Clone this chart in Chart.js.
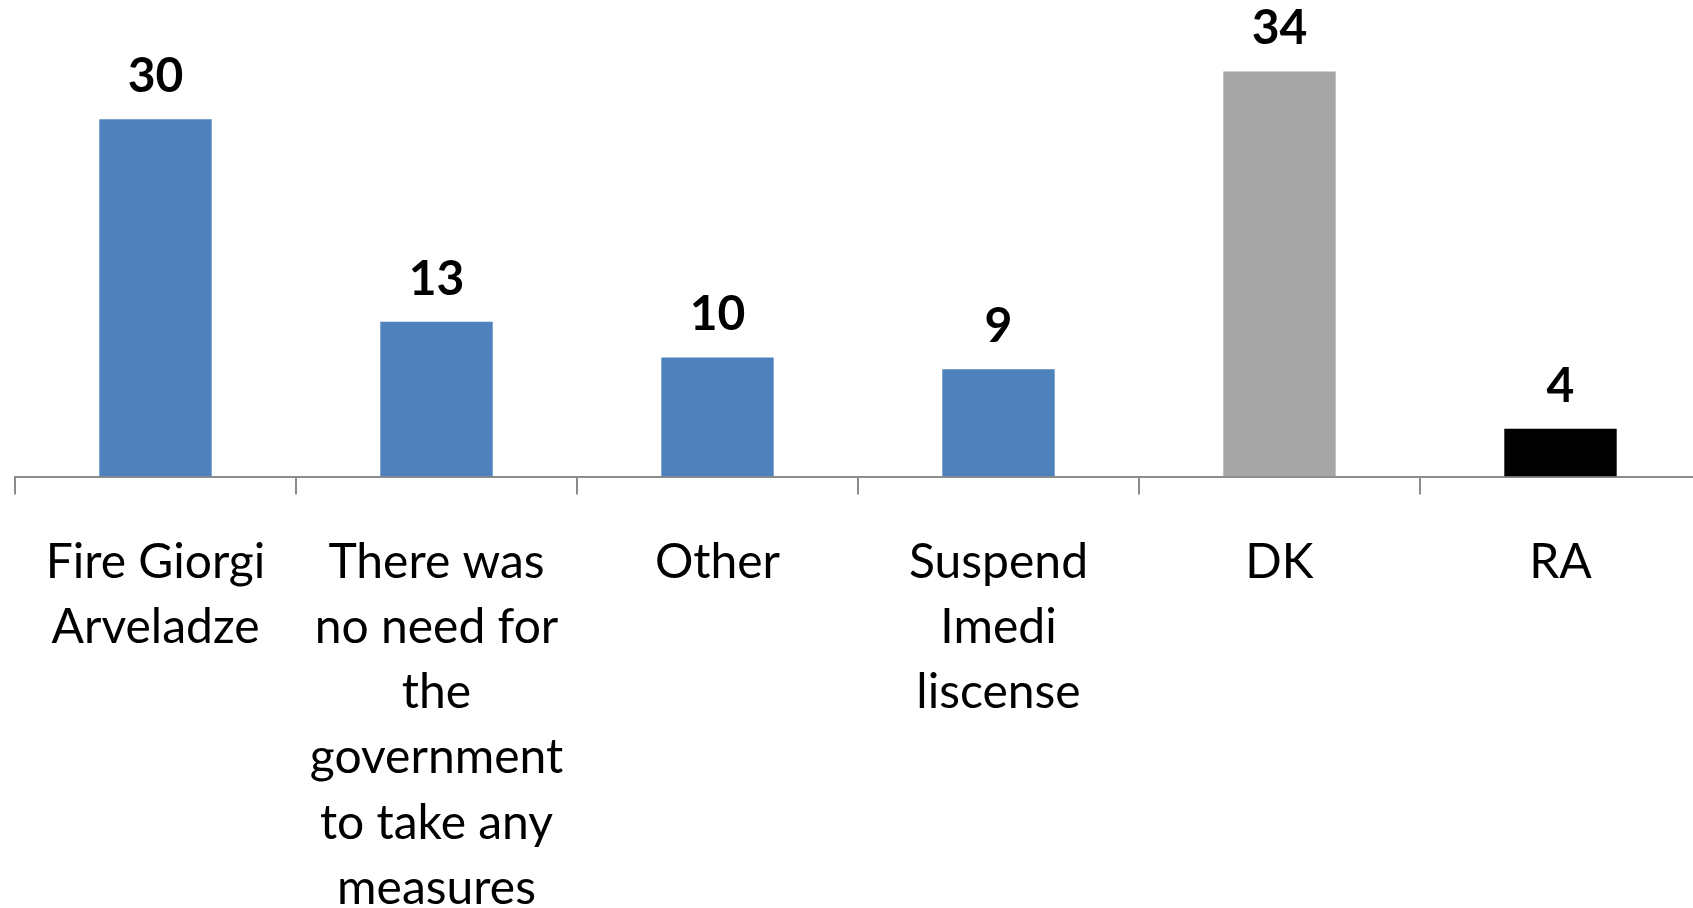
<!DOCTYPE html>
<html lang="en">
<head>
    <meta charset="UTF-8">
    <title>Measures</title>
    <script src="https://cdn.jsdelivr.net/npm/chart.js"></script>
    <style>
        body {
            margin: 0;
            padding: 0;
            background: #fff;
            overflow: hidden;
        }

        .frame {
            width: 1693px;
            height: 908px;
            overflow: hidden;
            position: relative;
        }

        .chart-wrapper {
            position: absolute;
            left: 0;
            top: 0;
            width: 1712px;
            height: 953px;
        }
    </style>
</head>

<body>
    <div class="frame">
        <div class="chart-wrapper">
            <canvas id="measuresChart"></canvas>
        </div>
    </div>

    <script>
        const categories = [
            ['Fire Giorgi', 'Arveladze'],
            ['There was', 'no need for', 'the', 'government', 'to take any', 'measures'],
            ['Other'],
            ['Suspend', 'Imedi', 'liscense'],
            ['DK'],
            ['RA']
        ];
        const values = [30, 13, 10, 9, 34, 4];
        const barColors = ['#4f81bd', '#4f81bd', '#4f81bd', '#4f81bd', '#a6a6a6', '#000000'];

        const axisGray = '#8c8c8c';
        const fontFamily = 'Lato, "Open Sans", sans-serif';

        // numbers above each bar
        const valueLabels = {
            id: 'valueLabels',
            afterDatasetsDraw(chart) {
                const ctx = chart.ctx;
                const meta = chart.getDatasetMeta(0);
                ctx.save();
                ctx.font = 'bold 48px ' + fontFamily;
                ctx.fillStyle = '#000';
                ctx.textAlign = 'center';
                ctx.textBaseline = 'alphabetic';
                meta.data.forEach((bar, i) => {
                    ctx.fillText(String(values[i]), bar.x, bar.y - 27);
                });
                ctx.restore();
            }
        };

        new Chart(document.getElementById('measuresChart'), {
            type: 'bar',
            data: {
                labels: categories,
                datasets: [{
                    data: values,
                    backgroundColor: barColors,
                    borderWidth: 0,
                    barPercentage: 0.5,
                    categoryPercentage: 0.8
                }]
            },
            options: {
                responsive: true,
                maintainAspectRatio: false,
                animation: false,
                layout: {
                    padding: { left: 15, right: 11, top: 0, bottom: 0 }
                },
                plugins: {
                    legend: { display: false },
                    tooltip: { enabled: false }
                },
                scales: {
                    x: {
                        grid: {
                            display: true,
                            drawOnChartArea: false,
                            drawTicks: true,
                            tickLength: 18,
                            color: axisGray,
                            lineWidth: 2
                        },
                        border: {
                            display: true,
                            color: axisGray,
                            width: 2
                        },
                        ticks: {
                            color: '#000',
                            padding: 35,
                            maxRotation: 0,
                            autoSkip: false,
                            font: { family: fontFamily, size: 48, lineHeight: 1.36 }
                        }
                    },
                    y: {
                        display: false,
                        min: 0,
                        max: 40
                    }
                }
            },
            plugins: [valueLabels]
        });
    </script>
</body>
</html>
